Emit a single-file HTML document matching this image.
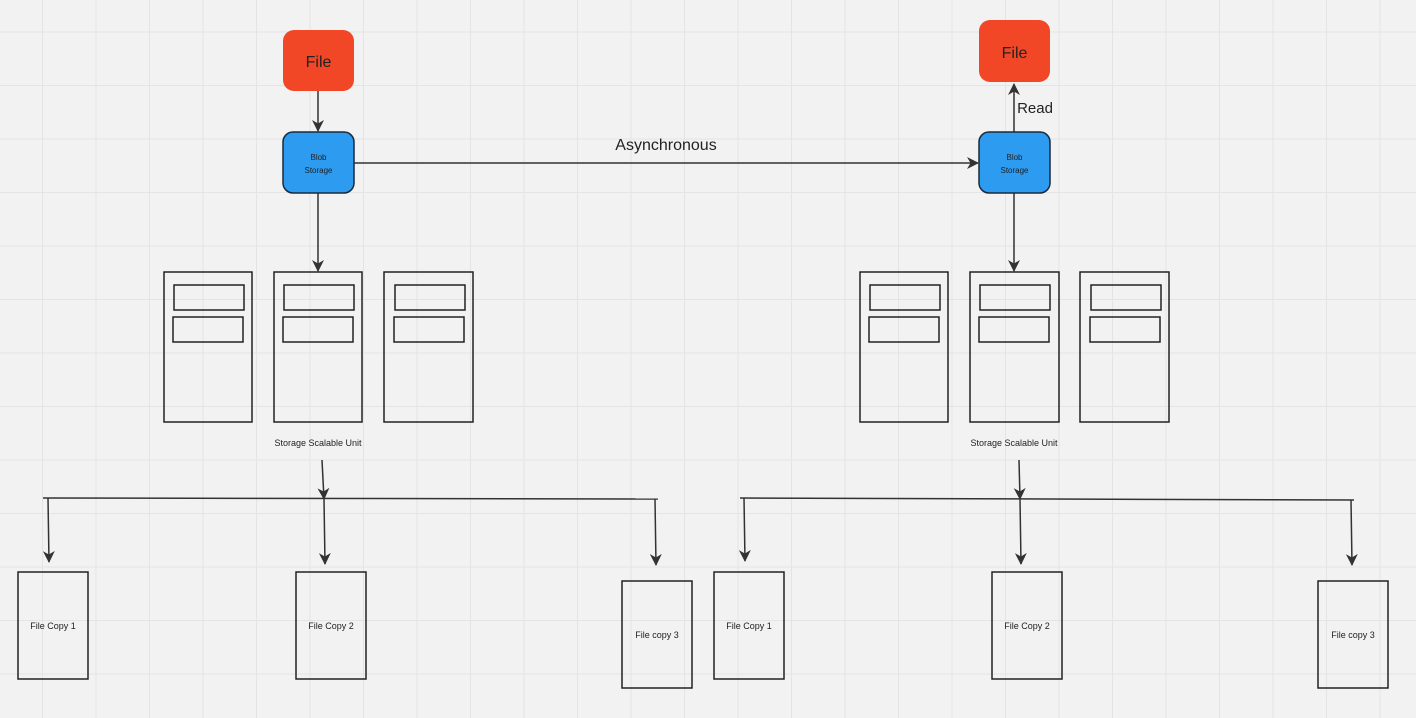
<!DOCTYPE html>
<html><head><meta charset="utf-8"><style>
html,body{margin:0;padding:0;background:#f2f2f2;}
svg{display:block;}
text{font-family:"Liberation Sans",sans-serif;fill:#222;}
.n{font-family:"Liberation Sans Narrow","Liberation Sans",sans-serif;}
</style></head><body>
<svg width="1416" height="718" viewBox="0 0 1416 718" xmlns="http://www.w3.org/2000/svg">
<defs>
<pattern id="g" x="42" y="31.5" width="53.5" height="53.5" patternUnits="userSpaceOnUse">
<path d="M0 0H53.5M0 0V53.5" stroke="#e4e4e4" stroke-width="2" fill="none"/>
</pattern>
<marker id="a" markerWidth="12" markerHeight="12" refX="11" refY="6" orient="auto" markerUnits="userSpaceOnUse">
<path d="M0 0L12 6L0 12L3.5 6z" fill="#333"/>
</marker>
</defs>
<rect width="1416" height="718" fill="#f2f2f2"/>
<rect width="1416" height="718" fill="url(#g)"/>

<g stroke="#333" stroke-width="1.5" fill="none">
<line x1="318" y1="91" x2="318" y2="131" marker-end="url(#a)"/>
<line x1="318" y1="193" x2="318" y2="271" marker-end="url(#a)"/>
<line x1="354" y1="163" x2="978" y2="163" marker-end="url(#a)"/>
<line x1="322" y1="460" x2="324" y2="499" marker-end="url(#a)"/>
<line x1="43" y1="498" x2="658" y2="499"/>
<line x1="48" y1="498" x2="49" y2="562" marker-end="url(#a)"/>
<line x1="324" y1="499" x2="325" y2="564" marker-end="url(#a)"/>
<line x1="655" y1="499" x2="656" y2="565" marker-end="url(#a)"/>
<line x1="1014" y1="132" x2="1014" y2="84" marker-end="url(#a)"/>
<line x1="1014" y1="193" x2="1014" y2="271" marker-end="url(#a)"/>
<line x1="1019" y1="460" x2="1020" y2="499" marker-end="url(#a)"/>
<line x1="740" y1="498" x2="1354" y2="500"/>
<line x1="744" y1="498" x2="745" y2="561" marker-end="url(#a)"/>
<line x1="1020" y1="499" x2="1021" y2="564" marker-end="url(#a)"/>
<line x1="1351" y1="500" x2="1352" y2="565" marker-end="url(#a)"/>
</g>

<rect x="283" y="30" width="71" height="61" rx="11" fill="#f24727"/>
<text x="318.5" y="67" font-size="16" text-anchor="middle">File</text>
<rect x="979" y="20" width="71" height="62" rx="11" fill="#f24727"/>
<text x="1014.5" y="58" font-size="16" text-anchor="middle">File</text>

<rect x="283" y="132" width="71" height="61" rx="10" fill="#2d9bf0" stroke="#1a2a3a" stroke-width="1.5"/>
<text x="318.5" y="160" font-size="8" text-anchor="middle">Blob</text>
<text x="318.5" y="173" font-size="8" text-anchor="middle">Storage</text>
<rect x="979" y="132" width="71" height="61" rx="10" fill="#2d9bf0" stroke="#1a2a3a" stroke-width="1.5"/>
<text x="1014.5" y="160" font-size="8" text-anchor="middle">Blob</text>
<text x="1014.5" y="173" font-size="8" text-anchor="middle">Storage</text>

<text x="666" y="150" font-size="16" text-anchor="middle">Asynchronous</text>
<text x="1035" y="113" font-size="15" text-anchor="middle">Read</text>

<g stroke="#222" stroke-width="1.5" fill="none">
<rect x="164" y="272" width="88" height="150"/><rect x="174" y="285" width="70" height="25"/><rect x="173" y="317" width="70" height="25"/>
<rect x="274" y="272" width="88" height="150"/><rect x="284" y="285" width="70" height="25"/><rect x="283" y="317" width="70" height="25"/>
<rect x="384" y="272" width="89" height="150"/><rect x="395" y="285" width="70" height="25"/><rect x="394" y="317" width="70" height="25"/>
<rect x="860" y="272" width="88" height="150"/><rect x="870" y="285" width="70" height="25"/><rect x="869" y="317" width="70" height="25"/>
<rect x="970" y="272" width="89" height="150"/><rect x="980" y="285" width="70" height="25"/><rect x="979" y="317" width="70" height="25"/>
<rect x="1080" y="272" width="89" height="150"/><rect x="1091" y="285" width="70" height="25"/><rect x="1090" y="317" width="70" height="25"/>
<rect x="18" y="572" width="70" height="107"/>
<rect x="296" y="572" width="70" height="107"/>
<rect x="622" y="581" width="70" height="107"/>
<rect x="714" y="572" width="70" height="107"/>
<rect x="992" y="572" width="70" height="107"/>
<rect x="1318" y="581" width="70" height="107"/>
</g>

<text class="n" x="318" y="446" font-size="9" text-anchor="middle">Storage Scalable Unit</text>
<text class="n" x="1014" y="446" font-size="9" text-anchor="middle">Storage Scalable Unit</text>
<text class="n" x="53" y="629" font-size="9" text-anchor="middle">File Copy 1</text>
<text class="n" x="331" y="629" font-size="9" text-anchor="middle">File Copy 2</text>
<text class="n" x="657" y="638" font-size="9" text-anchor="middle">File copy 3</text>
<text class="n" x="749" y="629" font-size="9" text-anchor="middle">File Copy 1</text>
<text class="n" x="1027" y="629" font-size="9" text-anchor="middle">File Copy 2</text>
<text class="n" x="1353" y="638" font-size="9" text-anchor="middle">File copy 3</text>
</svg>
</body></html>
